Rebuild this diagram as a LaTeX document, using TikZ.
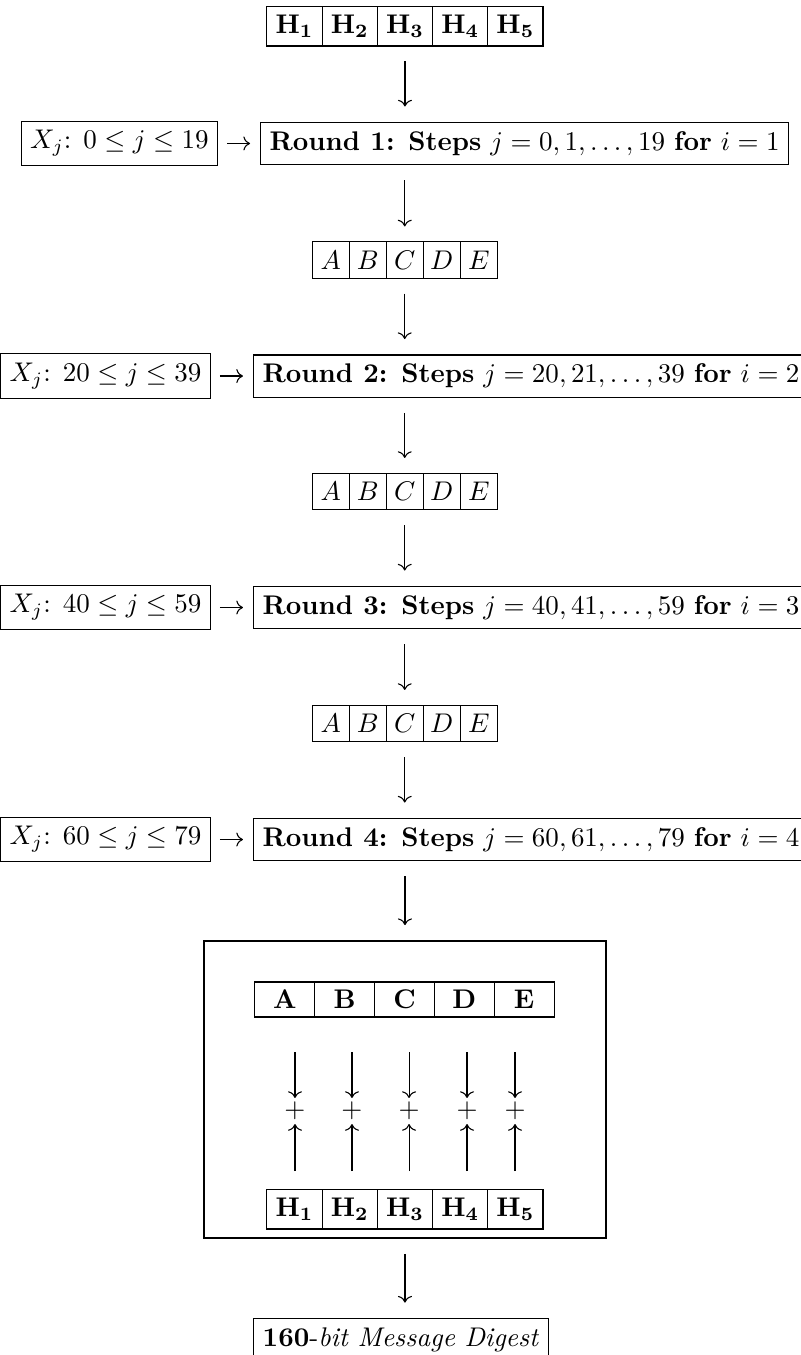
\documentclass[tikz,border=0pt]{standalone}
\usepackage{amsmath, amssymb}
\usepackage{tikz}
\usetikzlibrary{arrows.meta, positioning, calc}

\begin{document}
\begin{tikzpicture}[>=To,
    hcell/.style={draw, outer sep=0pt, minimum width=0.719cm, minimum height=0.52cm, inner sep=1pt},
    vcell/.style={draw, outer sep=0pt, minimum width=0.482cm, minimum height=0.47cm, inner xsep=1pt},
    bcell/.style={draw, outer sep=0pt, minimum width=0.779cm, minimum height=0.456cm, inner sep=1pt},
    flow/.style={->, shorten <=0.2cm, shorten >=0.2cm},
    feed/.style={->, shorten <=0.117cm, shorten >=0.13cm}]
    % Page frame (the rounds and the digest run past it)
    \useasboundingbox (0,0) rectangle (10.417,-17.643);

    % Initial chaining values
    \foreach \k in {1,...,5}
        \node[hcell] (ht\k) at ({5.273+(\k-3)*0.719}, -0.339) {$\mathbf{H_{\k}}$};

    % Message words and rounds
    \node[draw, anchor=east] (x1) at (2.839, -1.868) {$X_j$: $0 \leq j \leq 19$};
    \node[draw, right=0.547cm of x1] (r1) {\textbf{Round 1: Steps} $j = 0, 1, \ldots, 19$ \textbf{for} $i = 1$};
    \node[draw, anchor=east] (x2) at (2.747, -4.896) {$X_j$: $20 \leq j \leq 39$};
    \node[draw, right=0.547cm of x2] (r2) {\textbf{Round 2: Steps} $j = 20, 21, \ldots, 39$ \textbf{for} $i = 2$};
    \node[draw, anchor=east] (x3) at (2.747, -7.910) {$X_j$: $40 \leq j \leq 59$};
    \node[draw, right=0.547cm of x3] (r3) {\textbf{Round 3: Steps} $j = 40, 41, \ldots, 59$ \textbf{for} $i = 3$};
    \node[draw, anchor=east] (x4) at (2.747, -10.931) {$X_j$: $60 \leq j \leq 79$};
    \node[draw, right=0.547cm of x4] (r4) {\textbf{Round 4: Steps} $j = 60, 61, \ldots, 79$ \textbf{for} $i = 4$};

    \draw[feed] (x1) -- (r1);
    \draw[feed] (x2) -- (r2);
    \draw[feed] (x3) -- (r3);
    \draw[feed] (x4) -- (r4);

    % Working registers between rounds
    \foreach \r/\y in {1/-3.385, 2/-6.400, 3/-9.421}
        \foreach \k/\letter in {1/A, 2/B, 3/C, 4/D, 5/E}
            \node[vcell] (c\r\k) at ({5.270+(\k-3)*0.482}, \y) {$\letter$};

    % Final addition block
    \node[draw, minimum width=5.234cm, minimum height=3.867cm] (fin) at (5.273, -14.186) {};
    \foreach \k/\letter in {1/A, 2/B, 3/C, 4/D, 5/E}
        \node[bcell] (b\k) at ({5.267+(\k-3)*0.779}, -13.014) {\textbf{\letter}};
    \foreach \k in {1,...,5}
        \node[hcell] (hb\k) at ({5.273+(\k-3)*0.719}, -15.742) {$\mathbf{H_{\k}}$};
    \foreach \k/\x in {1/3.841, 2/4.583, 3/5.326, 4/6.081, 5/6.706} {
        \coordinate (t\k) at (\x, -13.698);
        \coordinate (u\k) at (\x, -15.247);
        \node[inner xsep=0pt, inner ysep=1.3pt] (p\k) at (\x, -14.466) {$+$};
        \draw[->] (t\k) -- (p\k);
        \draw[->] (u\k) -- (p\k);
    }

    % Output
    \node[draw, anchor=north] (dig) at (5.221, -17.161) {\textbf{160}-\textit{bit Message Digest}};

    % Main flow
    \draw[flow] (ht3) -- (ht3 |- r1.north);
    \draw[flow] (r1.south -| c13) -- (c13);
    \draw[flow] (c13) -- (c13 |- r2.north);
    \draw[flow] (r2.south -| c23) -- (c23);
    \draw[flow] (c23) -- (c23 |- r3.north);
    \draw[flow] (r3.south -| c33) -- (c33);
    \draw[flow] (c33) -- (c33 |- r4.north);
    \draw[flow] (r4.south -| fin) -- (fin);
    \draw[flow] (fin) -- (fin |- dig.north);
\end{tikzpicture}
\end{document}
